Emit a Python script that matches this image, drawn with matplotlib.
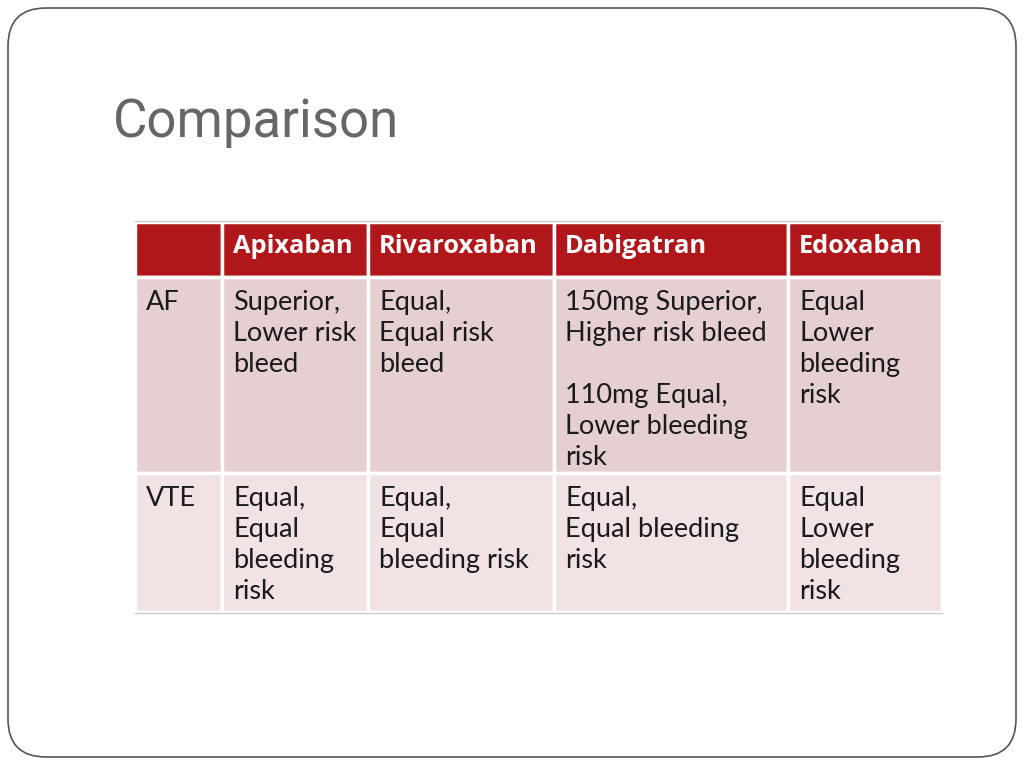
import matplotlib.pyplot as plt
from matplotlib.patches import FancyBboxPatch, Rectangle

title = "Comparison"
headers = ["", "Apixaban", "Rivaroxaban", "Dabigatran", "Edoxaban"]
row_labels = ["AF", "VTE"]
af_cells = ["Superior,\nLower risk\nbleed",
            "Equal,\nEqual risk\nbleed",
            "150mg Superior,\nHigher risk bleed\n\n110mg Equal,\nLower bleeding\nrisk",
            "Equal\nLower\nbleeding\nrisk"]
vte_cells = ["Equal,\nEqual\nbleeding\nrisk",
             "Equal,\nEqual\nbleeding risk",
             "Equal,\nEqual bleeding\nrisk",
             "Equal\nLower\nbleeding\nrisk"]

# layout (pixels)
col_edges = [135, 222, 368, 554, 788, 942]
row_edges = [222, 277, 473, 612]
row_colors = ["#b0171b", "#e6cfd1", "#f1e3e4"]
line_h = 31
pad = 11

fig = plt.figure(figsize=(10.24, 7.68), dpi=100)
ax = fig.add_axes([0, 0, 1, 1])
ax.set_xlim(0, 1024)
ax.set_ylim(768, 0)
ax.axis('off')

# slide border
ax.add_patch(FancyBboxPatch((8, 8), 1008, 749, boxstyle="round,pad=0,rounding_size=38",
                            fc='white', ec='#555555', lw=1.2))

ax.text(113, 137, title, fontsize=38, color='#666666', family='Roboto', va='baseline')

rows = [headers, row_labels[:1] + af_cells, row_labels[1:] + vte_cells]
for r, cells in enumerate(rows):
    y0, y1 = row_edges[r], row_edges[r + 1]
    for c, txt in enumerate(cells):
        x0, x1 = col_edges[c], col_edges[c + 1]
        ax.add_patch(Rectangle((x0, y0), x1 - x0, y1 - y0, fc=row_colors[r],
                               ec='white', lw=2.5))
        if r == 0:
            ax.text(x0 + pad, y0 + 31, txt, fontsize=18.3, color='white',
                    fontweight='bold', family='Open Sans', va='baseline')
        else:
            for i, line in enumerate(txt.split("\n")):
                ax.text(x0 + pad, y0 + 33 + i * line_h, line, fontsize=19.5,
                        color='#1a1a1a', family='Lato', va='baseline')

ax.plot([col_edges[0], col_edges[-1]], [row_edges[0] - 1, row_edges[0] - 1], color='#cccccc', lw=1)
ax.plot([col_edges[0], col_edges[-1]], [row_edges[-1] + 1, row_edges[-1] + 1], color='#cccccc', lw=1)

fig.savefig('out.png', dpi=100)
